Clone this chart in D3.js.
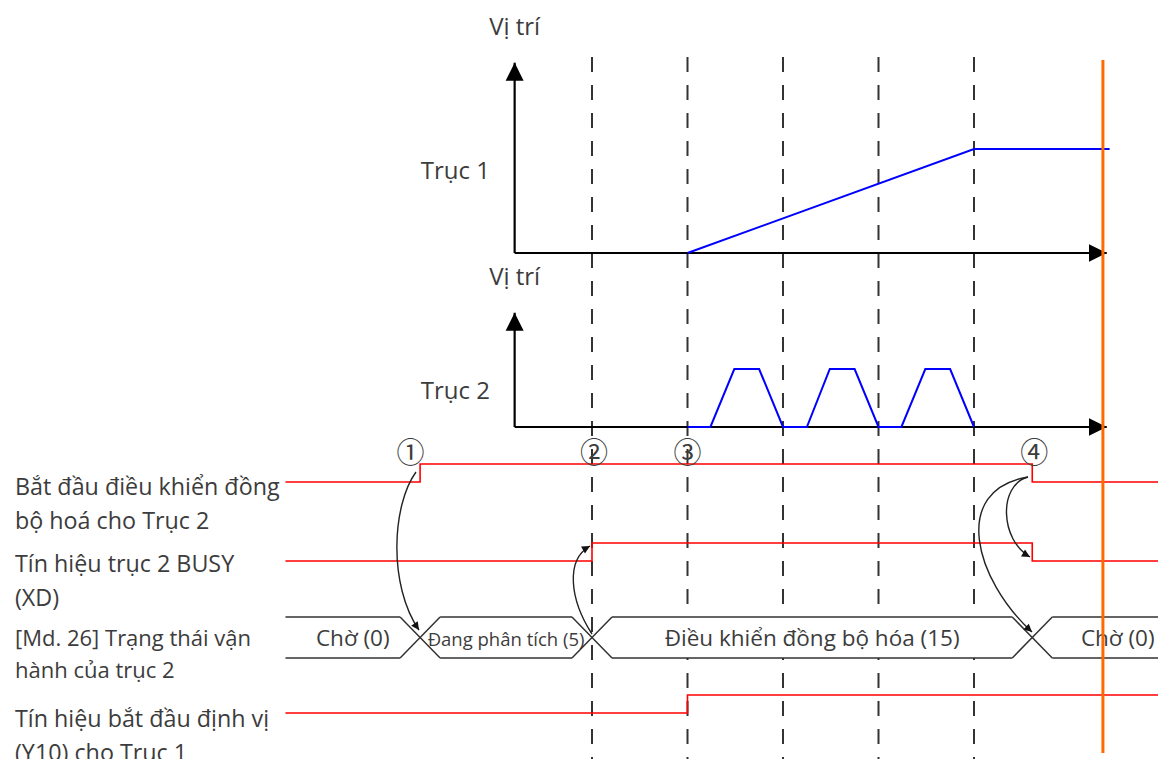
<!DOCTYPE html>
<meta charset="utf-8">
<style>
body { margin: 0; background: #fff; }
text {
  font-family: "Open Sans", "Noto Sans", sans-serif;
  fill: #3c3c3c;
}
.dash { stroke: #333; stroke-width: 2px; stroke-dasharray: 15,13; }
.axis { stroke: #000; stroke-width: 2.2px; fill: none; }
.pos { stroke: #0000ff; stroke-width: 2px; fill: none; }
.sig { stroke: #ff0000; stroke-width: 1.6px; fill: none; }
.band { stroke: #333; stroke-width: 1.5px; fill: none; }
.cause { stroke: #222; stroke-width: 1.4px; fill: none; }
</style>
<svg width="1158" height="759"></svg>
<script src="https://d3js.org/d3.v7.min.js"></script>
<script>
// time grid (dashed lines) and key instants, in time units
const gridTimes = [2, 3, 4, 5, 6];
const axisStart = 1.19, axisEnd = 7.39, cursorTime = 7.35;
const sigStart = -1.21, sigEnd = 8.4;

// position of axis 1: ramp from t=3 to t=6, then hold
const axis1Times = [3, 6, 7.42];
const axis1Pos = [0, 1, 1];

// position of axis 2: three trapezoid moves
const axis2Times = [3, 3.24, 3.49, 3.75, 4, 4.25, 4.49, 4.75, 5, 5.24, 5.49, 5.75, 6];
const axis2Pos =   [0, 0,    1,    1,    0, 0,    1,    1,    0, 0,    1,    1,    0];

// digital signals: times of edges and levels (0/1)
const sigNames = [
  ['Bắt đầu điều khiển đồng', 'bộ hoá cho Trục 2'],
  ['Tín hiệu trục 2 BUSY', '(XD)'],
  ['Tín hiệu bắt đầu định vị', '(Y10) cho Trục 1']
];
const sigEdges = [
  [0.2, 6.61],
  [2, 6.61],
  [3]
];
const sigLevels = [
  [0, 1, 0],
  [0, 1, 0],
  [0, 1]
];

// operation status of axis 2
const stateName = ['[Md. 26] Trạng thái vận', 'hành của trục 2'];
const stateChanges = [0.2, 2, 6.61];
const stateLabels = ['Chờ (0)', 'Đang phân tích (5)', 'Điều khiển đồng bộ hóa (15)', 'Chờ (0)'];

const marks = ['①', '②', '③', '④'];
const markTimes = [0.1, 2.02, 3, 6.63];

const svg = d3.select('svg');

const x = d3.scaleLinear().domain([2, 6]).range([592, 974]);
const y1 = d3.scaleLinear().domain([0, 1]).range([253, 149]);
const y2 = d3.scaleLinear().domain([0, 1]).range([427, 369]);
// rows of the timing part
const rowLow = [482, 561, 713];
const rowHigh = 18;
const band = { top: 617, bottom: 658 };

const defs = svg.append('defs');
defs.append('marker')
  .attr('id', 'axis-arrow')
  .attr('viewBox', '0 0 10 10')
  .attr('refX', 10).attr('refY', 5)
  .attr('markerUnits', 'userSpaceOnUse')
  .attr('markerWidth', 18).attr('markerHeight', 19)
  .attr('orient', 'auto')
  .append('path').attr('d', 'M0,0 L10,5 L0,10 z').attr('fill', '#000');
defs.append('marker')
  .attr('id', 'cause-arrow')
  .attr('viewBox', '0 0 10 10')
  .attr('refX', 10).attr('refY', 5)
  .attr('markerUnits', 'userSpaceOnUse')
  .attr('markerWidth', 9).attr('markerHeight', 8)
  .attr('orient', 'auto')
  .append('path').attr('d', 'M0,0 L10,5 L0,10 z').attr('fill', '#111');

// dashed time grid
svg.selectAll('.dash')
  .data(gridTimes)
  .enter().append('line')
  .attr('class', 'dash')
  .attr('x1', d => x(d)).attr('x2', d => x(d))
  .attr('y1', 57).attr('y2', 759);

// position charts
function drawPanel(y, topVal, times, vals, title, name) {
  svg.append('line').attr('class', 'axis')
    .attr('x1', x(axisStart)).attr('x2', x(axisStart))
    .attr('y1', y(0)).attr('y2', y(topVal))
    .attr('marker-end', 'url(#axis-arrow)');
  svg.append('line').attr('class', 'axis')
    .attr('x1', x(axisStart)).attr('x2', x(axisEnd))
    .attr('y1', y(0)).attr('y2', y(0))
    .attr('marker-end', 'url(#axis-arrow)');
  svg.append('path').attr('class', 'pos')
    .attr('d', d3.line().x(d => x(d[0])).y(d => y(d[1]))(d3.zip(times, vals)));
  svg.append('text')
    .attr('x', x(axisStart)).attr('y', y(topVal) - 28)
    .attr('text-anchor', 'middle')
    .style('font-size', '24px')
    .text(title);
  svg.append('text')
    .attr('x', 490).attr('y', y(1) + 30)
    .attr('text-anchor', 'end')
    .style('font-size', '24px')
    .text(name);
}
drawPanel(y1, 1.83, axis1Times, axis1Pos, 'Vị trí', 'Trục 1');
drawPanel(y2, 1.97, axis2Times, axis2Pos, 'Vị trí', 'Trục 2');

// digital signals
sigNames.forEach((name, i) => {
  const edges = sigEdges[i];
  const levels = sigLevels[i];
  const pts = [];
  const lv = l => rowLow[i] - l * rowHigh;
  pts.push([x(sigStart), lv(levels[0])]);
  edges.forEach((t, k) => {
    pts.push([x(t), lv(levels[k])]);
    pts.push([x(t), lv(levels[k + 1])]);
  });
  pts.push([x(sigEnd), lv(levels[levels.length - 1])]);
  svg.append('path').attr('class', 'sig').attr('d', d3.line()(pts));
});

// status band
const hw = 20;
const mid = (band.top + band.bottom) / 2;
const bounds = [sigStart].concat(stateChanges, [sigEnd]);
stateLabels.forEach((lab, i) => {
  const a = x(bounds[i]), b = x(bounds[i + 1]);
  const first = i === 0, last = i === stateLabels.length - 1;
  const la = first ? a : a + hw, lb = last ? b : b - hw;
  const poly = [[la, band.top], [lb, band.top]];
  if (!last) poly.push([b, mid]);
  poly.push([lb, band.bottom], [la, band.bottom]);
  if (!first) poly.push([a, mid]);
  svg.append('path').attr('d', d3.line()(poly) + 'Z').attr('fill', '#fff');
  svg.append('path').attr('class', 'band')
    .attr('d', d3.line()([[la, band.top], [lb, band.top]]) + d3.line()([[la, band.bottom], [lb, band.bottom]]));
  svg.append('text')
    .attr('x', (a + b) / 2).attr('y', mid + 8)
    .attr('text-anchor', 'middle')
    .style('font-size', i === 1 ? '18.5px' : '22.5px')
    .text(lab);
});
stateChanges.forEach(t => {
  const c = x(t);
  svg.append('path').attr('class', 'band')
    .attr('d', `M${c - hw},${band.top}L${c + hw},${band.bottom}M${c - hw},${band.bottom}L${c + hw},${band.top}`);
});

// signal names on the left
const nameRows = [
  { lines: sigNames[0], y: 495 },
  { lines: sigNames[1], y: 572 },
  { lines: stateName, y: 646, size: 22, gap: 32 },
  { lines: sigNames[2], y: 727 }
];
nameRows.forEach(r => {
  r.lines.forEach((s, k) => {
    svg.append('text')
      .attr('x', 15).attr('y', r.y + k * (r.gap || 34))
      .style('font-size', (r.size || 23.3) + 'px')
      .text(s);
  });
});

// circled step numbers
svg.selectAll('.mark')
  .data(marks)
  .enter().append('text')
  .attr('class', 'mark')
  .attr('x', (d, i) => x(markTimes[i]))
  .attr('y', 463)
  .attr('text-anchor', 'middle')
  .style('font-family', '"Noto Sans CJK JP", sans-serif')
  .style('font-size', '28px')
  .text(d => d);

// cause -> effect arrows
const causes = [
  [[416, 472], [392, 505], [388, 585], [419, 630]],
  [[592, 634], [570, 600], [565, 560], [590, 546]],
  [[1028, 477], [998, 485], [1000, 540], [1030, 557]],
  [[1028, 477], [950, 490], [975, 580], [1032, 632]]
];
causes.forEach(c => {
  const p = d3.path();
  p.moveTo(c[0][0], c[0][1]);
  p.bezierCurveTo(c[1][0], c[1][1], c[2][0], c[2][1], c[3][0], c[3][1]);
  svg.append('path').attr('class', 'cause')
    .attr('d', p.toString())
    .attr('marker-end', 'url(#cause-arrow)');
});

// current time cursor
svg.append('line')
  .attr('x1', x(cursorTime)).attr('x2', x(cursorTime))
  .attr('y1', 60).attr('y2', 753)
  .attr('stroke', '#ff6a00').attr('stroke-width', 3);
</script>
